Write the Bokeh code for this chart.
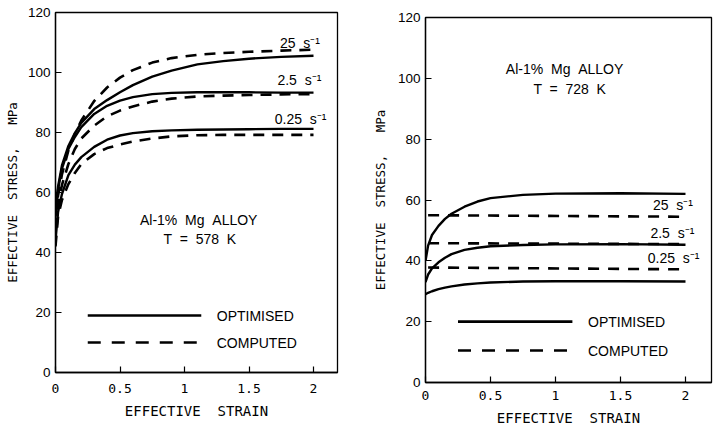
from bokeh.plotting import figure
from bokeh.models import FixedTicker, Range1d
from bokeh.core.properties import value
from bokeh.embed import file_html
from bokeh.resources import INLINE

# ---------------- data: T = 578 K ----------------
strain_578 = [0, 0.02, 0.05, 0.1, 0.15, 0.2, 0.3, 0.4, 0.5, 0.6, 0.75, 0.9, 1.1, 1.3, 1.5, 1.75, 2.0]
opt_578_25 = [55, 62, 69, 75.5, 79.8, 83.2, 87.8, 90.8, 93.4, 95.8, 98.6, 100.6, 102.7, 103.8, 104.6, 105.2, 105.6]
cmp_578_25 = [52, 59, 66, 74, 79.5, 84, 90.5, 95, 98.3, 100.8, 103.3, 104.8, 105.9, 106.5, 106.9, 107.3, 107.6]
opt_578_2p5 = [53, 61, 68, 74.5, 78.5, 81.8, 86.2, 88.9, 90.6, 91.8, 92.8, 93.2, 93.4, 93.4, 93.4, 93.3, 93.3]
cmp_578_2p5 = [48, 56, 62.5, 69.5, 74.5, 78, 82.3, 85.4, 87.3, 88.7, 90.3, 91.3, 92, 92.3, 92.5, 92.7, 92.8]
opt_578_0p25 = [44, 53.5, 59.5, 65.8, 69.3, 71.8, 75.2, 77.6, 79, 79.8, 80.4, 80.7, 80.9, 81, 81.1, 81.2, 81.2]
cmp_578_0p25 = [42, 52, 57.5, 62.8, 66.5, 69.5, 72.8, 74.8, 76, 77, 78, 78.7, 79.1, 79.2, 79.2, 79.2, 79.2]

# ---------------- data: T = 728 K ----------------
strain_728 = [0, 0.02, 0.05, 0.1, 0.15, 0.2, 0.3, 0.4, 0.5, 0.75, 1.0, 1.5, 2.0]
opt_728_25 = [40, 45, 48.5, 51.5, 53.8, 55.5, 57.8, 59.5, 60.6, 61.7, 62.1, 62.2, 62.0]
opt_728_2p5 = [33, 35.5, 37.5, 39.5, 41, 42.2, 43.6, 44.3, 44.8, 45.2, 45.4, 45.5, 45.3]
opt_728_0p25 = [29, 29.5, 30, 30.7, 31.2, 31.6, 32.2, 32.6, 32.9, 33.2, 33.3, 33.3, 33.2]
cmp_728_strain = [0.02, 2.0]
cmp_728_25 = [55, 54.5]
cmp_728_2p5 = [45.8, 45.5]
cmp_728_0p25 = [37.8, 37.2]

# ---------------- labels / ticks ----------------
SP2 = " \u00a0"
SP3 = " \u00a0\u00a0"
rate_labels = ["25" + SP2 + "s\u207b\u00b9", "2.5" + SP2 + "s\u207b\u00b9", "0.25" + SP2 + "s\u207b\u00b9"]
label_x_578 = [1.74, 1.72, 1.70]
label_y_578 = [110, 97.5, 84.5]
label_x_728 = [1.75, 1.73, 1.71]
label_y_728 = [58.5, 49, 41]

alloy_text = "Al-1%" + SP2 + "Mg" + SP2 + "ALLOY"
temp_578 = "T" + SP2 + "=" + SP2 + "578" + SP2 + "K"
temp_728 = "T" + SP2 + "=" + SP2 + "728" + SP2 + "K"
alloy_pos_578 = (1.11, 51)
temp_pos_578 = (1.12, 44.5)
alloy_pos_728 = (1.07, 103)
temp_pos_728 = (1.11, 96.5)

legend_names = ["OPTIMISED", "COMPUTED"]
legend_line_x = [0.25, 1.13]
legend_text_x = 1.25
legend_y_578 = [19, 10]
legend_y_728 = [20, 10.5]

x_ticks = [0, 0.5, 1, 1.5, 2]
x_tick_labels = ["0", "0.5", "1", "1.5", "2"]
y_ticks = [0, 20, 40, 60, 80, 100, 120]
x_title = "EFFECTIVE" + SP2 + "STRAIN"
y_title = "EFFECTIVE" + SP2 + "STRESS," + SP3 + "MPa"

SANS = "Liberation Sans"
MONO = "DejaVu Sans Mono"


def make_panel(width, x_end, borders, xstand, ylab_standoff, left_px):
    bl, br, bt, bb = borders
    p = figure(width=width, height=428, output_backend="svg", toolbar_location=None, title=None,
               x_range=Range1d(0, x_end), y_range=Range1d(0, 120),
               min_border_left=bl, min_border_right=br, min_border_top=bt, min_border_bottom=bb,
               styles={"position": "absolute", "left": f"{left_px}px", "top": "0px"})
    p.background_fill_color = "white"
    p.border_fill_color = "white"
    p.grid.visible = False
    p.outline_line_color = "black"
    p.outline_line_width = 1.3
    p.outline_line_alpha = 1

    p.xaxis.ticker = FixedTicker(ticks=x_ticks)
    p.xaxis.major_label_overrides = {t: l for t, l in zip(x_ticks, x_tick_labels)}
    p.yaxis.ticker = FixedTicker(ticks=y_ticks)
    for ax in (p.xaxis, p.yaxis):
        ax.axis_line_color = "black"
        ax.axis_line_width = 1.3
        ax.major_tick_line_color = "black"
        ax.major_tick_line_width = 1.2
        ax.major_tick_in = 6
        ax.major_tick_out = 0
        ax.minor_tick_line_color = None
        ax.major_label_text_color = "black"
        ax.axis_label_text_color = "black"
        ax.axis_label_text_font_style = "normal"
    p.xaxis.major_label_text_font = MONO
    p.xaxis.major_label_text_font_size = "13px"
    p.xaxis.major_label_standoff = xstand[0]
    p.xaxis.axis_label = x_title
    p.xaxis.axis_label_text_font = MONO
    p.xaxis.axis_label_text_font_size = "14px"
    p.xaxis.axis_label_standoff = xstand[1]
    p.yaxis.major_label_text_font = SANS
    p.yaxis.major_label_text_font_size = "13.5px"
    p.yaxis.major_label_standoff = 5
    p.yaxis.axis_label = y_title
    p.yaxis.axis_label_text_font = MONO
    p.yaxis.axis_label_text_font_size = "12.5px"
    p.yaxis.axis_label_standoff = ylab_standoff
    return p


def add_legend(p, ys):
    p.line(legend_line_x, [ys[0], ys[0]], line_color="black", line_width=2.6)
    p.line(legend_line_x, [ys[1], ys[1]], line_color="black", line_width=2.6, line_dash="13 11")
    p.text([legend_text_x, legend_text_x], ys, text=legend_names, text_font=value(SANS),
           text_font_size="14px", text_baseline="middle", text_align="left", text_color="black")


# ---------------- left panel ----------------
p1 = make_panel(360, 2.186, (55, 23, 12, 56), (11, 7), 5, 0)
for ys in (opt_578_25, opt_578_2p5, opt_578_0p25):
    p1.line(strain_578, ys, line_color="black", line_width=2.4)
for ys in (cmp_578_25, cmp_578_2p5, cmp_578_0p25):
    p1.line(strain_578, ys, line_color="black", line_width=2.6, line_dash="11 8")
p1.text(label_x_578, label_y_578, text=rate_labels, text_font=value(SANS), text_font_size="14px",
        text_baseline="middle", text_align="left", text_color="black")
p1.text([alloy_pos_578[0], temp_pos_578[0]], [alloy_pos_578[1], temp_pos_578[1]],
        text=[alloy_text, temp_578], text_font=value(SANS), text_font_size="14px",
        text_baseline="middle", text_align="center", text_color="black")
add_legend(p1, legend_y_578)

# ---------------- right panel ----------------
p2 = make_panel(354, 2.2, (65, 3, 17, 45), (8, 7), 7, 360)
for ys in (opt_728_25, opt_728_2p5, opt_728_0p25):
    p2.line(strain_728, ys, line_color="black", line_width=2.4)
for ys in (cmp_728_25, cmp_728_2p5, cmp_728_0p25):
    p2.line(cmp_728_strain, ys, line_color="black", line_width=2.6, line_dash="11 9")
p2.text(label_x_728, label_y_728, text=rate_labels, text_font=value(SANS), text_font_size="14px",
        text_baseline="middle", text_align="left", text_color="black")
p2.text([alloy_pos_728[0], temp_pos_728[0]], [alloy_pos_728[1], temp_pos_728[1]],
        text=[alloy_text, temp_728], text_font=value(SANS), text_font_size="14px",
        text_baseline="middle", text_align="center", text_color="black")
add_legend(p2, legend_y_728)

open("out.html", "w").write(file_html([p1, p2], INLINE))
